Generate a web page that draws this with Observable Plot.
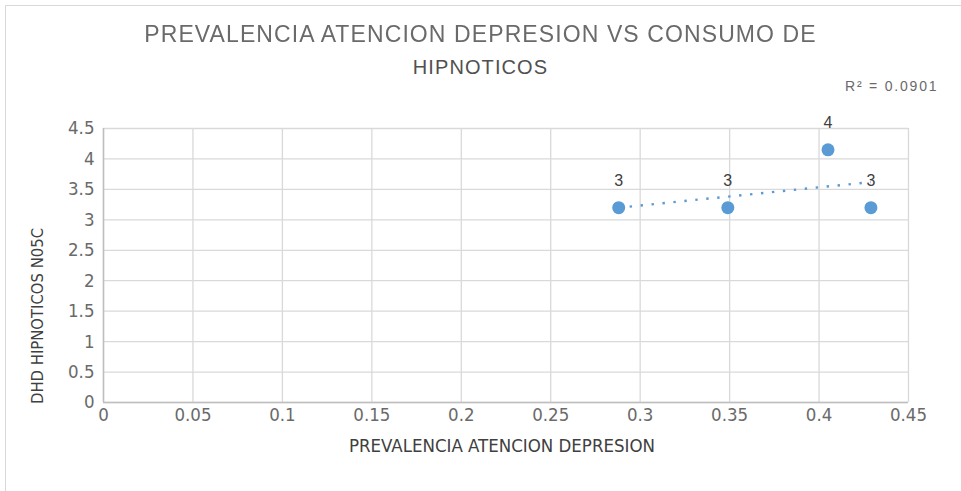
<!DOCTYPE html>
<html>
<head>
<meta charset="utf-8">
<script src="https://cdn.jsdelivr.net/npm/d3@7"></script>
<script src="https://cdn.jsdelivr.net/npm/@observablehq/plot@0.6"></script>
<style>
  body { margin: 0; background: #fff; }
  #chart { position: relative; width: 961px; height: 491px; overflow: hidden; background: #fff; }
  #frame { position: absolute; left: 5px; top: 5px; width: 1000px; height: 1000px; border: 1.5px solid #d9d9d9; box-sizing: border-box; }
  .title1 { position: absolute; left: 0; width: 961px; top: 21px; text-align: center;
            font-family: "Liberation Sans", Arial, sans-serif; font-size: 23px; letter-spacing: 1.1px;
            color: #6a6a6a; filter: blur(0.5px); white-space: nowrap; }
  .title2 { position: absolute; left: 0; width: 961px; top: 56px; text-align: center;
            font-family: "Liberation Sans", Arial, sans-serif; font-size: 20px; letter-spacing: 1.1px;
            color: #505050; white-space: nowrap; }
  .r2 { position: absolute; left: 845px; top: 78px; font-family: "Liberation Sans", Arial, sans-serif;
        font-size: 14px; letter-spacing: 1.8px; color: #6a6a6a; white-space: nowrap; }
  .xtitle { position: absolute; left: 0; width: 1004px; top: 435px; text-align: center;
            font-family: "Liberation Sans Narrow", "DejaVu Sans Condensed", sans-serif; font-size: 18.5px;
            color: #404040; white-space: nowrap; }
  .ytitle { position: absolute; left: 37px; top: 316px; transform: translate(-50%, -50%) rotate(-90deg);
            font-family: "Liberation Sans Narrow", "DejaVu Sans Condensed", sans-serif; font-size: 16.5px;
            color: #404040; white-space: nowrap; }
  #plot { position: absolute; left: 0; top: 0; }
</style>
</head>
<body>
<div id="chart">
  <div id="frame"></div>
  <div id="plot"></div>
  <div class="title1">PREVALENCIA ATENCION DEPRESION VS CONSUMO DE</div>
  <div class="title2">HIPNOTICOS</div>
  <div class="r2">R² = 0.0901</div>
  <div class="xtitle">PREVALENCIA ATENCION DEPRESION</div>
  <div class="ytitle">DHD HIPNOTICOS N05C</div>
</div>
<script>
// Prevalence of depression care (x) against hypnotic consumption in DHD (y)
const prevalencia = [0.288, 0.349, 0.405, 0.429];
const dhdHipnoticos = [3.2, 3.2, 4.15, 3.2];

// Axis tick values
const xTicks = [0, 0.05, 0.1, 0.15, 0.2, 0.25, 0.3, 0.35, 0.4, 0.45];
const yTicks = [0, 0.5, 1, 1.5, 2, 2.5, 3, 3.5, 4, 4.5];

const data = prevalencia.map((x, i) => ({x, y: dhdHipnoticos[i]}));

const blue = "#5B9BD5";
const gridColor = "#d9d9d9";

const chart = Plot.plot({
  width: 961,
  height: 491,
  marginLeft: 103,
  marginRight: 53,
  marginTop: 128,
  marginBottom: 89,
  style: {fontFamily: "'Liberation Sans Narrow', 'DejaVu Sans Condensed', sans-serif", fontSize: "18.5px",
          color: "#6a6a6a", background: "transparent"},
  x: {domain: [0, 0.45]},
  y: {domain: [0, 4.5]},
  marks: [
    Plot.gridX(xTicks, {stroke: gridColor, strokeOpacity: 1, strokeWidth: 1.3}),
    Plot.gridY(yTicks, {stroke: gridColor, strokeOpacity: 1, strokeWidth: 1.3}),
    Plot.ruleY([0], {stroke: "#bfbfbf", strokeWidth: 1.5}),
    Plot.ruleX([0], {stroke: "#bfbfbf", strokeWidth: 1.5}),
    Plot.axisX(xTicks, {tickSize: 0, tickPadding: 5, label: null, tickFormat: d => String(d)}),
    Plot.axisY(yTicks, {tickSize: 0, tickPadding: 9, label: null, tickFormat: d => String(d)}),
    Plot.linearRegressionY(data, {x: "x", y: "y", ci: 0, stroke: blue, strokeWidth: 2.4,
                                  strokeDasharray: "2.4 8.6", strokeLinecap: "butt"}),
    Plot.dot(data, {x: "x", y: "y", r: 6.5, fill: blue, stroke: "none"}),
    Plot.text(data, {x: "x", y: "y", text: d => d3.format(".0f")(d.y), dy: -27,
                     fontSize: 16, fontFamily: "'Liberation Sans', Arial, sans-serif", fill: "#404040"})
  ]
});

document.getElementById("plot").appendChild(chart);
</script>
</body>
</html>
